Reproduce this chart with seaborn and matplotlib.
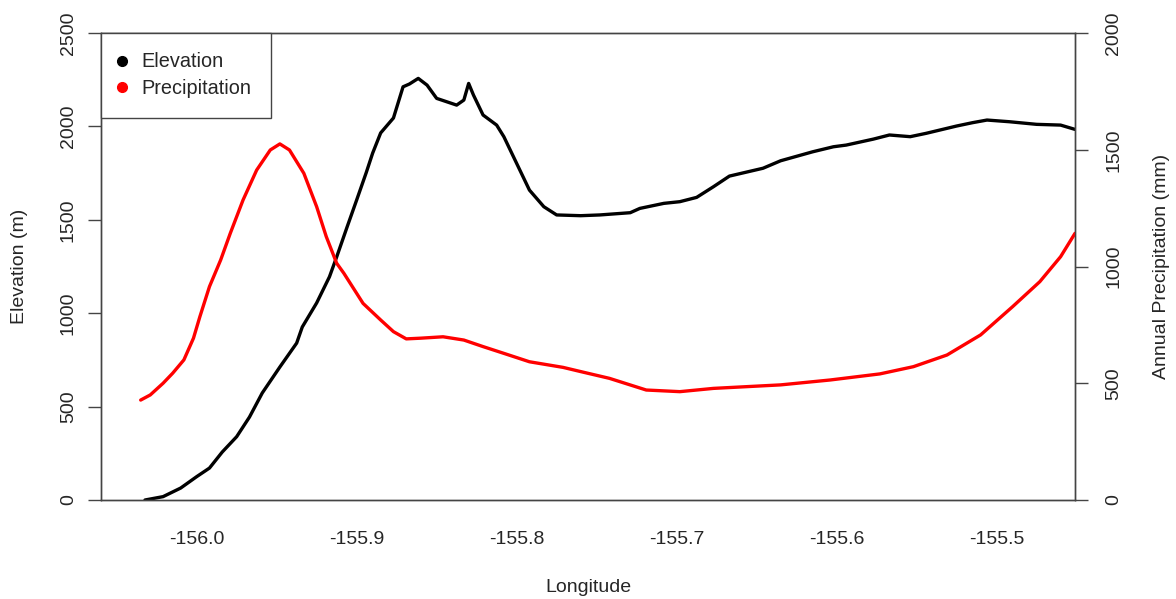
import numpy as np
import pandas as pd
import matplotlib
matplotlib.use('Agg')
import matplotlib.pyplot as plt
from matplotlib.lines import Line2D
import seaborn as sns

# elevation transect (m)
elev_lon = [-156.0323, -156.021, -156.010, -156.000, -155.992, -155.984, -155.975, -155.967,
            -155.959, -155.948, -155.9375, -155.934, -155.925, -155.917, -155.9125, -155.906,
            -155.900, -155.894, -155.890, -155.885, -155.877, -155.871, -155.867, -155.8615,
            -155.856, -155.850, -155.842, -155.8375, -155.833, -155.830, -155.827, -155.821,
            -155.8125, -155.808, -155.800, -155.792, -155.783, -155.775, -155.760, -155.748,
            -155.729, -155.723, -155.708, -155.698, -155.6875, -155.677, -155.667, -155.646,
            -155.635, -155.615, -155.602, -155.594, -155.577, -155.567, -155.554, -155.544,
            -155.525, -155.515, -155.506, -155.492, -155.475, -155.460, -155.451]
elev_m = [0, 18, 64, 125, 171, 257, 339, 444,
          573, 712, 840, 926, 1055, 1195, 1301, 1461,
          1606, 1753, 1857, 1965, 2045, 2212, 2227, 2257,
          2221, 2150, 2127, 2114, 2141, 2230, 2168, 2061,
          2007, 1945, 1802, 1659, 1570, 1526, 1522, 1526,
          1538, 1561, 1588, 1597, 1620, 1677, 1734, 1776,
          1816, 1864, 1891, 1900, 1932, 1954, 1945, 1963,
          2002, 2020, 2034, 2025, 2011, 2007, 1984]

# annual precipitation (mm)
prec_lon = [-156.035, -156.029, -156.021, -156.015, -156.008, -156.002, -155.998, -155.992,
            -155.985, -155.979, -155.971, -155.9625, -155.954, -155.948, -155.942, -155.933,
            -155.925, -155.919, -155.9125, -155.908, -155.904, -155.896, -155.885, -155.877,
            -155.869, -155.860, -155.846, -155.833, -155.821, -155.808, -155.792, -155.771,
            -155.760, -155.742, -155.719, -155.698, -155.677, -155.635, -155.604, -155.573,
            -155.552, -155.531, -155.510, -155.490, -155.473, -155.460, -155.451]
prec_mm = [428, 450, 500, 543, 600, 693, 785, 914,
           1028, 1142, 1285, 1413, 1499, 1525, 1499, 1399,
           1256, 1128, 1014, 971, 928, 842, 771, 721,
           690, 693, 699, 685, 657, 628, 592, 568,
           550, 521, 471, 464, 478, 493, 514, 540,
           571, 621, 707, 828, 935, 1042, 1142]

x_ticks = [-156.0, -155.9, -155.8, -155.7, -155.6, -155.5]
elev_ticks = [0, 500, 1000, 1500, 2000, 2500]
prec_ticks = [0, 500, 1000, 1500, 2000]

sns.set_style('white')
plt.rcParams['font.family'] = ['Liberation Sans', 'DejaVu Sans']
FS = 14
AXC = '#444444'

elev = pd.DataFrame({'lon': elev_lon, 'elev': elev_m})
prec = pd.DataFrame({'lon': prec_lon, 'prec': prec_mm})

fig = plt.figure(figsize=(11.76, 5.99), dpi=100)
ax = fig.add_axes([101 / 1176, 99 / 599, 974 / 1176, 467 / 599])
ax2 = ax.twinx()

sns.lineplot(data=elev, x='lon', y='elev', ax=ax, color='black', lw=2.4,
             sort=False, estimator=None, legend=False)
sns.lineplot(data=prec, x='lon', y='prec', ax=ax2, color='#ff0000', lw=2.4,
             sort=False, estimator=None, legend=False)

ax.set_xlim(-156.0598, -155.451)
ax.set_ylim(0, 2500)
ax2.set_ylim(0, 2000)

ax.set_xticks(x_ticks)
ax.set_xticklabels([f'{v:.1f}' for v in x_ticks])
ax.set_yticks(elev_ticks)
ax.set_yticklabels([str(v) for v in elev_ticks])
ax2.set_yticks(prec_ticks)
ax2.set_yticklabels([str(v) for v in prec_ticks])

for a in (ax, ax2):
    for s in a.spines.values():
        s.set_color(AXC)
        s.set_linewidth(1.0)
ax.tick_params(axis='x', direction='out', length=9.4, width=1.0, color=AXC,
               labelsize=FS, pad=13)
ax.tick_params(axis='y', direction='out', length=9.4, width=1.0, color=AXC,
               labelsize=FS, pad=8, labelrotation=90)
ax2.tick_params(axis='y', direction='out', length=9.4, width=1.0, color=AXC,
                labelsize=FS, pad=12.5, labelrotation=90)
for lab in ax.get_yticklabels() + ax2.get_yticklabels():
    lab.set_va('center')

ax.set_xlabel('Longitude', fontsize=FS, labelpad=22)
ax.set_ylabel('Elevation (m)', fontsize=FS, labelpad=23)
ax2.set_ylabel('Annual Precipitation (mm)', fontsize=FS, labelpad=22, rotation=90)

handles = [Line2D([], [], ls='none', marker='o', color='black', ms=7),
           Line2D([], [], ls='none', marker='o', color='#ff0000', ms=7)]
leg = ax2.legend(handles, ['Elevation', 'Precipitation'], loc='upper left',
                 bbox_to_anchor=(0, 1), borderaxespad=0, fontsize=14.3,
                 frameon=True, fancybox=False, framealpha=1, edgecolor=AXC,
                 handlelength=0.2, handletextpad=0.85, labelspacing=0.4,
                 borderpad=0.98)
leg.get_frame().set_linewidth(1.0)

fig.savefig('out.png', dpi=100)
